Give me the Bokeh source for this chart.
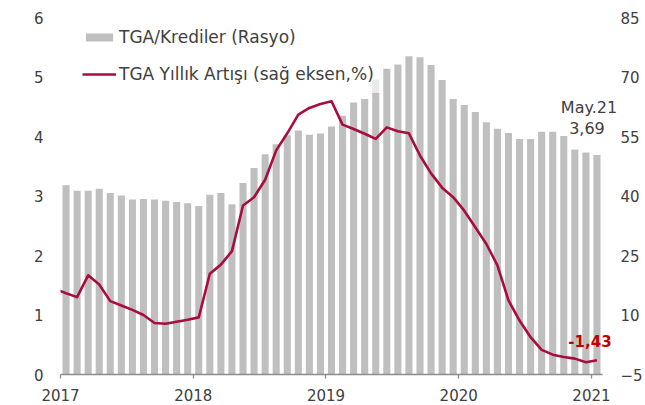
from bokeh.plotting import figure
from bokeh.models import (Range1d, LinearAxis, FixedTicker, Legend,
                          LegendItem, ColumnDataSource)
from bokeh.core.properties import value
from bokeh.embed import file_html
from bokeh.resources import INLINE

# ---------------- data ----------------
# TGA/Krediler ratio, monthly May 2017 .. May 2021 (left axis)
ratio = [3.18, 3.09, 3.09, 3.12, 3.05, 3.01, 2.94, 2.95, 2.94, 2.92, 2.90, 2.88,
         2.83, 3.02, 3.05, 2.86, 3.22, 3.47, 3.70, 3.87, 4.02, 4.10, 4.03, 4.05,
         4.17, 4.35, 4.57, 4.63, 4.73, 5.14, 5.21, 5.35, 5.33, 5.20, 4.95, 4.63,
         4.53, 4.41, 4.24, 4.13, 4.06, 3.96, 3.96, 4.08, 4.08, 4.01, 3.78, 3.73,
         3.69]
# TGA annual growth %, Apr 2017 .. May 2021 (right axis)
growth = [16.6, 15.5, 14.5, 20.0, 17.7, 13.5, 12.4, 11.3, 10.0, 8.0, 7.8, 8.3,
          8.8, 9.4, 20.4, 22.7, 26.1, 37.6, 39.7, 44.1, 51.5, 55.8, 60.5, 62.2,
          63.2, 63.9, 58.0, 56.9, 55.7, 54.4, 57.3, 56.3, 55.8, 50.2, 45.7, 42.1,
          39.7, 36.3, 32.1, 27.9, 22.5, 13.7, 8.6, 4.4, 1.2, 0.0, -0.6, -1.0,
          -1.9, -1.43]
# faint earlier-value remnant seen on one bar
ghost_index = [28]
ghost_top = [4.96]

year_labels = ["2017", "2018", "2019", "2020", "2021"]
left_ticks = [0, 1, 2, 3, 4, 5, 6]
right_ticks = [-5, 10, 25, 40, 55, 70, 85]
last_period = "May.21"

series_bar = "TGA/Krediler (Rasyo)"
series_line = "TGA Yıllık Artışı (sağ eksen,%)"

# ---------------- styles ----------------
FONT = "DejaVu Sans"
TXT = "#404040"
BAR = "#BFBFBF"
LINE = "#A80D3D"

n = len(ratio)
bx = list(range(n))
lx = list(range(-1, n))

p = figure(width=645, height=405, output_backend="svg", toolbar_location=None,
           x_range=Range1d(-0.5, n - 0.5), y_range=Range1d(0, 6),
           min_border_left=60, min_border_right=41, min_border_top=17,
           min_border_bottom=31)
p.title.visible = False
p.outline_line_color = None
p.grid.visible = False
p.background_fill_color = "white"
p.border_fill_color = "white"
p.extra_y_ranges = {"g": Range1d(-5, 85)}

bsrc = ColumnDataSource(dict(x=bx, top=ratio))
br = p.vbar(x="x", top="top", bottom=0, width=0.64, source=bsrc,
            fill_color=BAR, line_color=None)
gsrc = ColumnDataSource(dict(x=ghost_index, top=ghost_top,
                             bottom=[ratio[i] for i in ghost_index]))
p.vbar(x="x", top="top", bottom="bottom", width=0.64, source=gsrc,
       fill_color="#EAEAEA", line_color=None)

lsrc = ColumnDataSource(dict(x=lx, y=growth))
lr = p.line(x="x", y="y", source=lsrc, line_color=LINE, line_width=2.6,
            y_range_name="g", line_join="round")


def style_y(ax, standoff):
    ax.axis_line_color = None
    ax.major_tick_line_color = None
    ax.minor_tick_line_color = None
    ax.major_tick_out = 0
    ax.major_tick_in = 0
    ax.minor_tick_out = 0
    ax.major_label_standoff = standoff
    ax.major_label_text_font = FONT
    ax.major_label_text_font_size = "15px"
    ax.major_label_text_color = TXT


yl = p.yaxis[0]
yl.ticker = FixedTicker(ticks=left_ticks)
style_y(yl, 17)

yr = LinearAxis(y_range_name="g", ticker=FixedTicker(ticks=right_ticks))
style_y(yr, 18)
p.add_layout(yr, "right")

# x axis
xa = p.xaxis[0]
xticks = [i * 12 - 0.5 for i in range(len(year_labels))]
xa.ticker = FixedTicker(ticks=xticks)
xa.major_label_overrides = {t: lab for t, lab in zip(xticks, year_labels)}
xa.axis_line_color = "#8C8C8C"
xa.axis_line_width = 1.3
xa.major_tick_line_color = "#8C8C8C"
xa.major_tick_line_width = 1.3
xa.major_tick_out = 4
xa.major_tick_in = 0
xa.minor_tick_line_color = None
xa.major_label_standoff = 10
xa.major_label_text_font = FONT
xa.major_label_text_font_size = "15px"
xa.major_label_text_color = TXT

# legend
legend = Legend(items=[LegendItem(label=series_bar, renderers=[br]),
                       LegendItem(label=series_line, renderers=[lr])],
                location=(22, 290), orientation="vertical")
legend.glyph_width = 34
legend.glyph_height = 10
legend.label_height = 20
legend.spacing = 17
legend.padding = 0
legend.margin = 0
legend.label_standoff = 3
legend.border_line_color = None
legend.background_fill_alpha = 0
legend.label_text_font = FONT
legend.label_text_font_size = "17px"
legend.label_text_color = TXT
p.add_layout(legend)

# end-of-series annotations (text glyphs on the overlay level, so they may
# extend past the plot frame like in the original)
last = n - 1
asrc = ColumnDataSource(dict(
    x=[last, last], y=[ratio[-1], ratio[-1]],
    text=[last_period, f"{ratio[-1]:.2f}".replace(".", ",")],
    yoff=[-47, -27], xoff=[-8, -10]))
p.text(x="x", y="y", text="text", source=asrc, x_offset="xoff", y_offset="yoff",
       text_align="center", text_baseline="middle", text_font=value(FONT),
       text_font_size="16px", text_color=TXT, level="overlay")
rsrc = ColumnDataSource(dict(x=[last], y=[growth[-1]],
                             text=[f"{growth[-1]:.2f}".replace(".", ",")]))
p.text(x="x", y="y", text="text", source=rsrc, y_range_name="g", x_offset=-7,
       y_offset=-19, text_align="center", text_baseline="middle",
       text_font=value(FONT), text_font_size="15px", text_font_style="bold",
       text_color="#C00000", level="overlay")

open("out.html", "w").write(file_html(p, INLINE))
